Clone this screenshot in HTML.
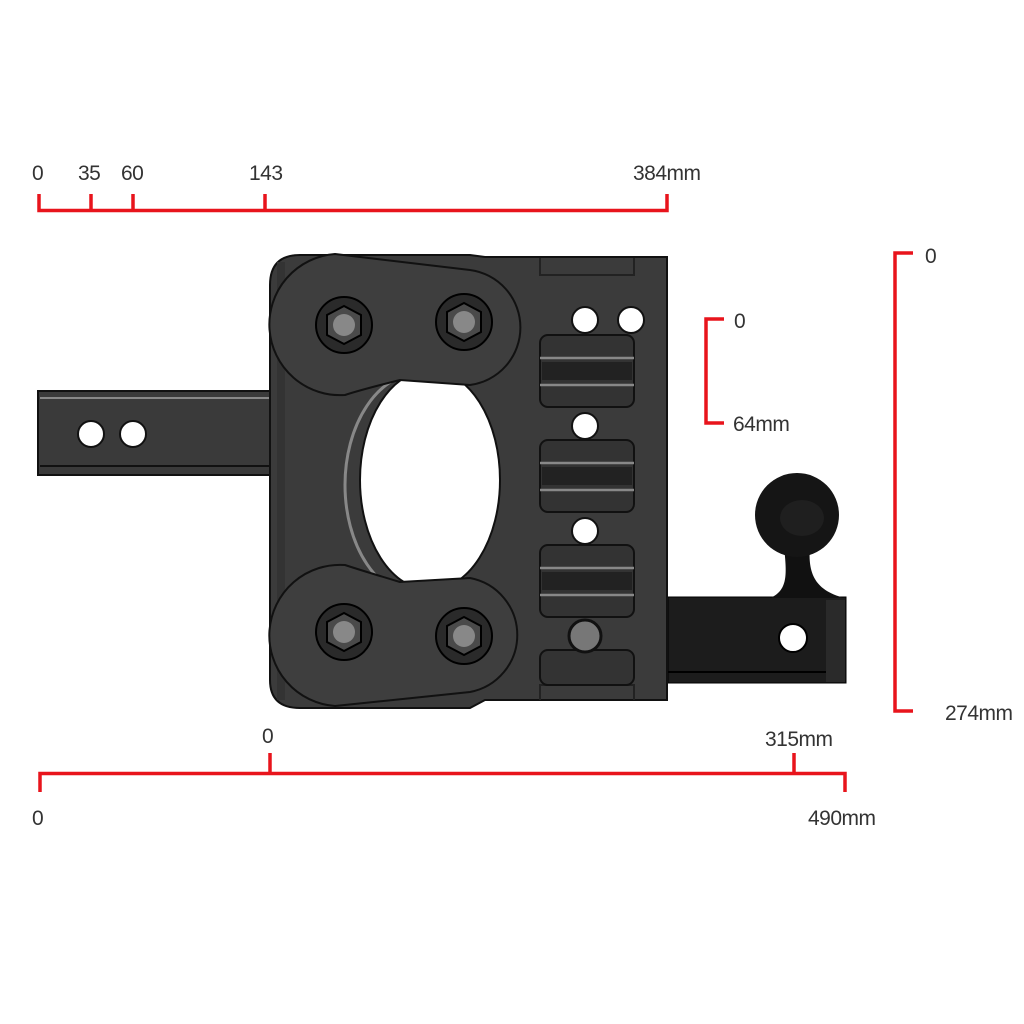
<!DOCTYPE html>
<html><head><style>
html,body{margin:0;padding:0;background:#fff;}
svg{display:block;}
text{font-family:"Liberation Sans",sans-serif;font-size:21px;fill:#333;letter-spacing:-0.5px;}
</style></head><body>
<svg width="1024" height="1024" viewBox="0 0 1024 1024" xmlns="http://www.w3.org/2000/svg">
<g stroke="#e8141c" stroke-width="3.5" fill="none">
<path d="M39,194 V210.5 H667 V194 M91,194 V210 M133,194 V210 M265,194 V210"/>
<path d="M40,792 V773.5 H845 V792 M270,753 V773 M794,753 V773"/>
<path d="M913,253 H895 V711 H913"/>
<path d="M724,319 H706 V423 H724"/>
</g>
<g>
<text x="32" y="180">0</text><text x="78" y="180">35</text><text x="121" y="180">60</text>
<text x="249" y="180">143</text><text x="633" y="180">384mm</text>
<text x="262" y="743">0</text><text x="765" y="746">315mm</text>
<text x="32" y="825">0</text><text x="808" y="825">490mm</text>
<text x="925" y="263">0</text><text x="945" y="720">274mm</text>
<text x="734" y="328">0</text><text x="733" y="431">64mm</text>
</g>
<rect x="38" y="391" width="245" height="84" fill="#3a3a3a" stroke="#111" stroke-width="2"/>
<line x1="40" y1="398" x2="280" y2="398" stroke="#888" stroke-width="2"/>
<line x1="40" y1="466" x2="280" y2="466" stroke="#111" stroke-width="2"/>
<circle cx="91" cy="434" r="13" fill="#fff" stroke="#111" stroke-width="2"/>
<circle cx="133" cy="434" r="13" fill="#fff" stroke="#111" stroke-width="2"/>
<rect x="668" y="597" width="178" height="86" fill="#1c1c1c" stroke="#000"/>
<rect x="826" y="600" width="19" height="82" fill="#2a2a2a"/>
<line x1="668" y1="672" x2="826" y2="672" stroke="#000" stroke-width="2"/>
<path d="M770,598 C790,590 786,570 784,545 L810,545 C808,570 812,590 845,598 Z" fill="#111"/>
<circle cx="797" cy="515" r="42" fill="#151515"/>
<ellipse cx="802" cy="518" rx="22" ry="18" fill="#1f1f1f"/>
<circle cx="793" cy="638" r="14" fill="#fff" stroke="#000" stroke-width="2"/>
<path d="M300,255 H470 L485,257 H667 V700 H485 L470,708 H300 Q270,708 270,680 V285 Q270,255 300,255 Z" fill="#3b3b3b" stroke="#111" stroke-width="2"/>
<rect x="277" y="262" width="8" height="438" fill="#333"/>
<path d="M540,258 V275 H634 V258" fill="none" stroke="#222" stroke-width="2"/>
<path d="M540,700 V685 H634 V700" fill="none" stroke="#222" stroke-width="2"/>
<ellipse cx="420" cy="485" rx="75" ry="112" fill="none" stroke="#888" stroke-width="3"/>
<ellipse cx="430" cy="480" rx="70" ry="110" fill="#fff" stroke="#111" stroke-width="2"/>
<path d="M335,254 L470,270 A58,58 0 0 1 470,385 L400,380 Q360,390 345,395 A70,70 0 0 1 335,254 Z" fill="#3e3e3e" stroke="#111" stroke-width="2"/>
<path d="M335,706 L470,692 A58,58 0 0 0 470,578 L400,582 Q360,570 345,565 A70,70 0 0 0 335,706 Z" fill="#3e3e3e" stroke="#111" stroke-width="2"/>
<g fill="#2a2a2a" stroke="#000" stroke-width="2">
<circle cx="344" cy="325" r="28"/><circle cx="464" cy="322" r="28"/>
<circle cx="344" cy="632" r="28"/><circle cx="464" cy="636" r="28"/>
</g>
<g fill="#4a4a4a" stroke="#000" stroke-width="2">
<polygon points="344,306 361,315 361,335 344,344 327,335 327,315"/>
<polygon points="464,303 481,312 481,332 464,341 447,332 447,312"/>
<polygon points="344,613 361,622 361,642 344,651 327,642 327,622"/>
<polygon points="464,617 481,626 481,646 464,655 447,646 447,626"/>
</g>
<g fill="#888">
<circle cx="344" cy="325" r="11"/><circle cx="464" cy="322" r="11"/>
<circle cx="344" cy="632" r="11"/><circle cx="464" cy="636" r="11"/>
</g>
<g fill="#333" stroke="#111" stroke-width="2">
<rect x="540" y="335" width="94" height="72" rx="8"/>
<rect x="540" y="440" width="94" height="72" rx="8"/>
<rect x="540" y="545" width="94" height="72" rx="8"/>
<rect x="540" y="650" width="94" height="35" rx="8"/>
</g>
<g stroke="#888" stroke-width="2.5">
<line x1="540" y1="358" x2="634" y2="358"/><line x1="540" y1="385" x2="634" y2="385"/>
<line x1="540" y1="463" x2="634" y2="463"/><line x1="540" y1="490" x2="634" y2="490"/>
<line x1="540" y1="568" x2="634" y2="568"/><line x1="540" y1="595" x2="634" y2="595"/>
</g>
<g fill="#222"><rect x="542" y="362" width="90" height="18"/><rect x="542" y="467" width="90" height="18"/><rect x="542" y="572" width="90" height="18"/></g>
<g fill="#fff" stroke="#111" stroke-width="2">
<circle cx="585" cy="320" r="13"/><circle cx="631" cy="320" r="13"/>
<circle cx="585" cy="426" r="13"/><circle cx="585" cy="531" r="13"/>
</g>
<circle cx="585" cy="636" r="16" fill="#777" stroke="#111" stroke-width="3"/>
</svg>
</body></html>
